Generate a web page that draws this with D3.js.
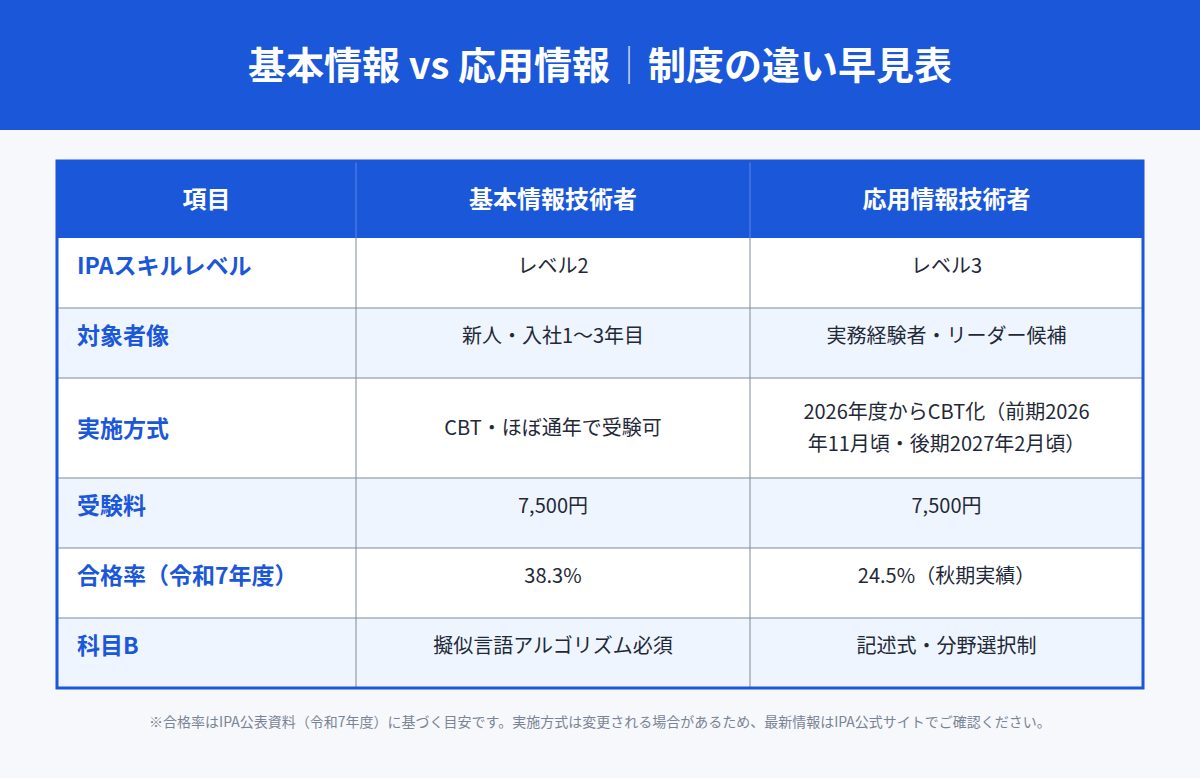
<!DOCTYPE html>
<html><head><meta charset="utf-8">
<script src="https://cdn.jsdelivr.net/npm/d3@7/dist/d3.min.js"></script>
<style>body{margin:0;background:#f5f8fc;font-family:"Noto Sans CJK JP","Noto Sans",sans-serif}</style>
</head><body><svg id="c" width="1200" height="778"></svg>
<script>
const headers = ["項目", "基本情報技術者", "応用情報技術者"];
const items = ["IPAスキルレベル", "対象者像", "実施方式", "受験料", "合格率（令和7年度）", "科目B"];
const basic = [["レベル2"], ["新人・入社1〜3年目"], ["CBT・ほぼ通年で受験可"], ["7,500円"], ["38.3%"], ["擬似言語アルゴリズム必須"]];
const applied = [["レベル3"], ["実務経験者・リーダー候補"], ["2026年度からCBT化（前期2026", "年11月頃・後期2027年2月頃）"], ["7,500円"], ["24.5%（秋期実績）"], ["記述式・分野選択制"]];
const footnote = "※合格率はIPA公表資料（令和7年度）に基づく目安です。実施方式は変更される場合があるため、最新情報はIPA公式サイトでご確認ください。";

const svg = d3.select("#c");
const blue = "#1b57d9";
svg.append("rect").attr("width",1200).attr("height",778).attr("fill","#f6f8fb");
svg.append("rect").attr("width",1200).attr("height",130).attr("fill",blue);
const t = svg.append("text").attr("x",600).attr("y",79).attr("text-anchor","middle")
  .attr("fill","#fff").attr("font-size",38).attr("font-weight",700);
t.append("tspan").text("基本情報 vs 応用情報");
t.append("tspan").attr("fill","#c8d6f5").attr("font-weight",300).text("｜");
t.append("tspan").text("制度の違い早見表");

const L=57,R=1143,T=161,HH=77;
const x = d3.scaleLinear().domain([0,1,2,3]).range([L,356,750,R]);
const heights = items.map((d,i)=> Math.max(basic[i].length, applied[i].length) > 1 ? 100 : 70);
const tops = d3.cumsum([0,...heights]);
const y = d3.scaleLinear().domain([0, tops[tops.length-1]]).range([T+HH, T+HH+tops[tops.length-1]]);
const bottom = y(tops[tops.length-1]);

svg.append("rect").attr("x",L).attr("y",T).attr("width",R-L).attr("height",HH).attr("fill",blue);
headers.forEach((h,i)=>{
  svg.append("text").attr("x",(x(i)+x(i+1))/2).attr("y",T+HH/2+8).attr("text-anchor","middle")
   .attr("fill","#fff").attr("font-size",24).attr("font-weight",700).text(h);
});
items.forEach((it,i)=>{
  const y0=y(tops[i]), y1=y(tops[i+1]), h=y1-y0;
  svg.append("rect").attr("x",L).attr("y",y0).attr("width",R-L).attr("height",h).attr("fill",i%2? "#eef5fe":"#fff");
  const tall = h>70;
  const ty = tall ? (y0+y1)/2+9 : y0+36;
  svg.append("text").attr("x",77).attr("y",ty).attr("fill",blue).attr("font-size",23).attr("font-weight",700).text(it);
  [basic[i],applied[i]].forEach((lines,c)=>{
    const cx=(x(c+1)+x(c+2))/2;
    const n=lines.length;
    lines.forEach((ln,k)=>{
      const yy = tall ? (y0+y1)/2 + 7 + (k-(n-1)/2)*32 : y0+35;
      svg.append("text").attr("x",cx).attr("y",yy).attr("text-anchor","middle").attr("fill","#1f2937").attr("font-size",20).text(ln);
    });
  });
  if(i>0) svg.append("line").attr("x1",L).attr("x2",R).attr("y1",y0).attr("y2",y0).attr("stroke","#7f8a99").attr("stroke-width",1);
});
[1,2].forEach(i=>{
  svg.append("line").attr("x1",x(i)).attr("x2",x(i)).attr("y1",T).attr("y2",T+HH).attr("stroke","#5f86e6").attr("stroke-width",1);
  svg.append("line").attr("x1",x(i)).attr("x2",x(i)).attr("y1",T+HH).attr("y2",bottom).attr("stroke","#7f8a99").attr("stroke-width",1);
});
svg.append("rect").attr("x",L).attr("y",T).attr("width",R-L).attr("height",bottom-T).attr("fill","none").attr("stroke",blue).attr("stroke-width",3);
svg.append("text").attr("x",600).attr("y",727).attr("text-anchor","middle").attr("fill","#7b8494").attr("font-size",14).text(footnote);
</script></body></html>
